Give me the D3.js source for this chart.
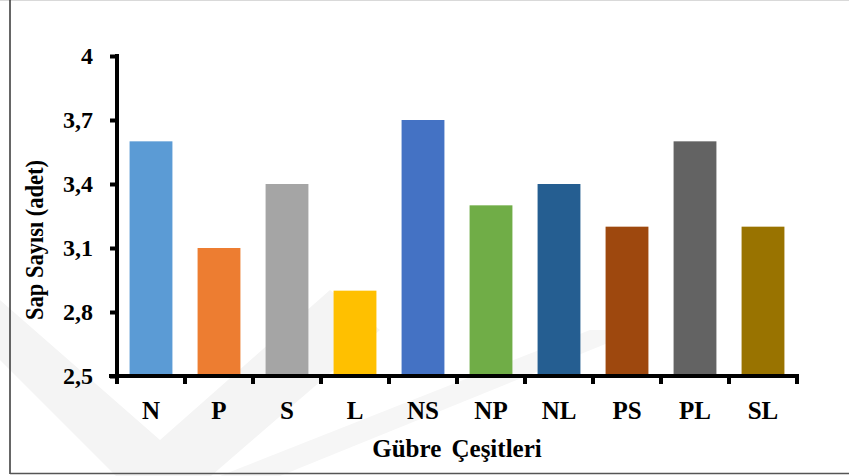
<!DOCTYPE html>
<html><head><meta charset="utf-8">
<script src="https://d3js.org/d3.v7.min.js"></script>
<style>body{margin:0;background:#fff}svg{display:block}text{font-family:"Liberation Serif","Times New Roman",serif;font-weight:bold;fill:#000}</style>
</head><body>
<script>
const categories = ["N","P","S","L","NS","NP","NL","PS","PL","SL"];
const values = [3.6,3.1,3.4,2.9,3.7,3.3,3.4,3.2,3.6,3.2];
const colors = ["#5B9BD5","#ED7D31","#A5A5A5","#FFC000","#4472C4","#70AD47","#255E91","#9E480E","#636363","#997300"];
const yTicks = [2.5,2.8,3.1,3.4,3.7,4];
const yLabel = "Sap Sayısı (adet)";
const xLabel = "Gübre Çeşitleri";

const W=849,H=476;
const svg=d3.select("body").append("svg").attr("width",W).attr("height",H);
// faint watermark
svg.append("path").attr("d","M0,300 L160,440 L330,290 L380,330 L160,520 L0,360 Z").attr("fill","#f4f4f4");
svg.append("path").attr("d","M220,476 L590,330 L640,330 L280,476 Z").attr("fill","#f6f6f6");

const x=d3.scaleBand().domain(categories).range([117,797]).paddingInner(0.37).paddingOuter(0.185);
const y=d3.scaleLinear().domain([2.5,4]).range([376,56]);

svg.selectAll("rect.bar").data(categories).join("rect").attr("class","bar")
 .attr("x",d=>x(d)).attr("width",x.bandwidth())
 .attr("y",(d,i)=>y(values[i])).attr("height",(d,i)=>y(2.5)-y(values[i]))
 .attr("fill",(d,i)=>colors[i]);

// y axis
const ya=svg.append("g").attr("transform","translate(117,0)")
 .call(d3.axisLeft(y).tickValues(yTicks).tickSize(7).tickPadding(17).tickFormat(d=>String(d).replace(".",",")));
ya.select(".domain").attr("stroke","#000").attr("stroke-width",4).attr("d","M0,54V378");
ya.selectAll(".tick line").attr("stroke","#000").attr("stroke-width",4);
ya.selectAll(".tick text").attr("font-size",24).attr("font-family","Liberation Serif").attr("font-weight","bold").attr("fill","#000");

// x axis
const xEdges=d3.scaleLinear().domain([0,categories.length]).range([117,797]);
const xa=svg.append("g").attr("transform","translate(0,376)");
xa.append("path").attr("d","M109,0H799").attr("stroke","#000").attr("stroke-width",4);
xa.selectAll("line.t").data(d3.range(categories.length+1)).join("line").attr("class","t")
 .attr("x1",d=>xEdges(d)).attr("x2",d=>xEdges(d)).attr("y1",0).attr("y2",8)
 .attr("stroke","#000").attr("stroke-width",4);
xa.selectAll("text").data(categories).join("text")
 .attr("x",d=>x(d)+x.bandwidth()/2).attr("y",43).attr("text-anchor","middle")
 .attr("font-size",25).text(d=>d);

svg.append("text").attr("x",457).attr("y",457).attr("text-anchor","middle").attr("font-size",25).attr("word-spacing",4).text(xLabel);
svg.append("text").attr("transform","translate(43,240) rotate(-90) scale(0.9,1)").attr("text-anchor","middle").attr("font-size",25).text(yLabel);

// frame
svg.append("line").attr("x1",0).attr("x2",849).attr("y1",0.5).attr("y2",0.5).attr("stroke","#d9d9d9");
svg.append("line").attr("x1",10).attr("x2",10).attr("y1",0).attr("y2",474).attr("stroke","#333").attr("stroke-width",1.5);
svg.append("line").attr("x1",10).attr("x2",849).attr("y1",473.5).attr("y2",473.5).attr("stroke","#555").attr("stroke-width",1.5);
</script>
</body></html>
